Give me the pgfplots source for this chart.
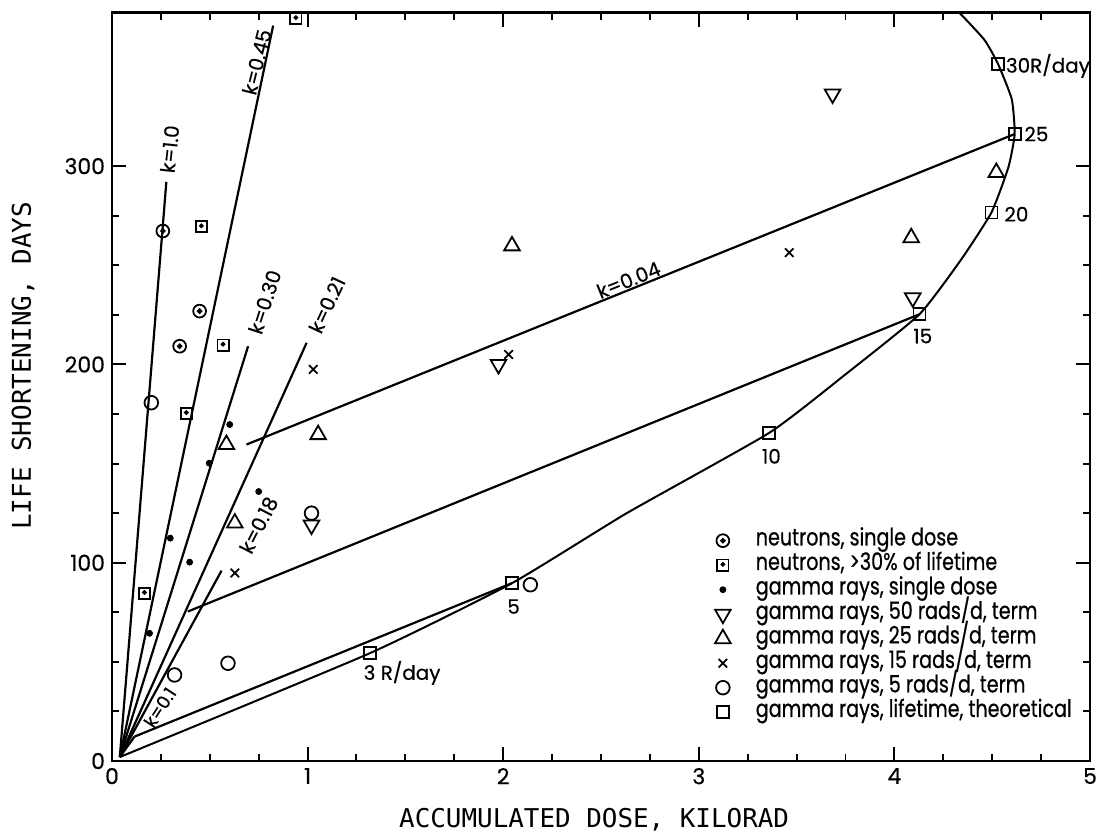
\documentclass[border=0pt]{standalone}
\usepackage{fontspec}
\setmainfont[FakeBold=0.4]{Poppins}
\newfontfamily\labelfont{DejaVu Sans Mono}
\newfontfamily\keyfont[FakeStretch=0.80, FakeBold=0.6]{Poppins}
\usepackage{pgfplots}
\pgfplotsset{compat=1.18}

% circle with a centre dot (neutrons, single dose)
\pgfdeclareplotmark{odot}{%
  \pgfpathcircle{\pgfpointorigin}{\pgfplotmarksize}\pgfusepathqstroke
  \pgfpathcircle{\pgfpointorigin}{0.28\pgfplotmarksize}\pgfusepathqfillstroke}
% square with an inner dot (neutrons, >30% of lifetime)
\pgfdeclareplotmark{sqdot}{%
  \pgfpathrectangle{\pgfpoint{-\pgfplotmarksize}{-\pgfplotmarksize}}{\pgfpoint{2\pgfplotmarksize}{2\pgfplotmarksize}}\pgfusepathqstroke
  \pgfpathcircle{\pgfpoint{0pt}{0.15\pgfplotmarksize}}{0.25\pgfplotmarksize}\pgfusepathqfillstroke}

\pgfplotsset{
  keyimg/.style={legend image code/.code={\path (-7bp,0) (14bp,0); \draw[##1] plot coordinates {(0bp,0bp)};}},
}
\tikzset{ann/.style={font=\fontsize{10}{12}\selectfont, inner sep=0pt}}

\begin{document}
\begin{tikzpicture}
\begin{axis}[
  scale only axis, width=489bp, height=374.15bp,
  xmin=0, xmax=5, ymin=0, ymax=377.4,
  xtick={0,1,2,3,4,5}, ytick={0,100,200,300},
  minor x tick num=3, minor y tick num=3,
  tick pos=both, tick align=inside,
  major tick length=7bp, minor tick length=3.5bp,
  every tick/.style={black, line width=1pt},
  axis line style={line width=1.3pt},
  /pgf/number format/assume math mode=true,
  tick label style={font=\fontsize{11}{12}\selectfont},
  xlabel={ACCUMULATED DOSE, KILORAD},
  ylabel={LIFE SHORTENING, DAYS},
  every axis x label/.style={at={(rel axis cs:0.493,-0.079)}, anchor=center,
    font=\labelfont\fontsize{13}{15}\selectfont},
  every axis y label/.style={at={(rel axis cs:-0.091,0.528)}, rotate=90, anchor=center,
    font=\labelfont\fontsize{13}{15}\selectfont},
  legend cell align=left,
  legend style={draw=none, fill=none, at={(axis cs:3.045,117.5)}, anchor=north west,
    font=\keyfont\fontsize{12}{12}\selectfont, row sep=0pt, inner sep=0pt,
    nodes={inner ysep=0pt, inner xsep=2bp, text height=8.5bp, text depth=3.75bp}},
]

% proportional lines y = k x, drawn from near the origin
\addplot[black, line width=1.1pt, forget plot] coordinates {(0.04,2) (0.278,292.1)};
\addplot[black, line width=1.1pt, forget plot] coordinates {(0.04,2) (0.824,370.9)};
\addplot[black, line width=1.1pt, forget plot] coordinates {(0.04,2) (0.696,209.2)};
\addplot[black, line width=1.1pt, forget plot] coordinates {(0.04,2) (0.995,210.9)};
\addplot[black, line width=1.1pt, forget plot] coordinates {(0.04,2) (0.56,96)};
\addplot[black, line width=1.1pt, forget plot] coordinates {(0.04,2) (0.115,12.3)};

% k = 0.04 lines joining the fan to the theoretical curve
\addplot[black, line width=1.1pt, forget plot] coordinates {(0.6875,159.6) (4.615,316.2)};
\addplot[black, line width=1.1pt, forget plot] coordinates {(0.388,75.4) (4.128,225.3)};
\addplot[black, line width=1.1pt, forget plot] coordinates {(0.115,12.3) (2.045,89.7)};

% theoretical lifetime curve
\addplot[black, line width=1pt, smooth, tension=0.3, forget plot] coordinates {
  (0.04,2) (1.319,54.4) (2.045,89.7) (2.63,124.9) (3.36,165.5) (3.75,195)
  (4.128,225.3) (4.342,253) (4.496,276.6) (4.583,299.5) (4.615,316.2)
  (4.600,333.8) (4.53,351.5) (4.461,363.6) (4.33,377.6) (4.25,384)};

% measured points
\addplot[only marks, mark=odot, mark size=3.2bp, black, line width=0.9pt, keyimg] coordinates {
  (0.260,267.3) (0.346,209.2) (0.448,226.9)};
\addlegendentry{neutrons, single dose}
\addplot[only marks, mark=sqdot, mark size=2.8bp, black, line width=0.9pt, keyimg] coordinates {
  (0.380,175.3) (0.457,269.5) (0.568,209.8) (0.166,84.6) (0.94,374.5)};
\addlegendentry{neutrons, >30\% of lifetime}
\addplot[only marks, mark=*, mark size=1.5bp, black, keyimg] coordinates {
  (0.298,112.4) (0.397,100.3) (0.192,64.4) (0.497,150.2) (0.602,169.7) (0.750,135.9)};
\addlegendentry{gamma rays, single dose}
\addplot[only marks, mark=triangle, mark size=4.5bp, mark options={rotate=180}, black, line width=0.9pt, keyimg] coordinates {
  (3.684,336.4) (4.094,233.6) (1.976,200) (1.02,119)};
\addlegendentry{gamma rays, 50 rads/d, term}
\addplot[only marks, mark=triangle, mark size=4.5bp, black, line width=0.9pt, keyimg] coordinates {
  (2.045,259.8) (4.086,263.9) (4.521,296.8) (1.054,164.6) (0.585,159.6) (0.628,120)};
\addlegendentry{gamma rays, 25 rads/d, term}
\addplot[only marks, mark=x, mark size=3bp, black, line width=0.9pt, keyimg] coordinates {
  (3.462,256.4) (2.028,205) (1.029,197.5) (0.628,94.8)};
\addlegendentry{gamma rays, 15 rads/d, term}
\addplot[only marks, mark=o, mark size=3.4bp, black, line width=0.9pt, keyimg] coordinates {
  (0.201,180.7) (0.593,49.3) (1.020,125) (2.139,88.9) (0.32,43.4)};
\addlegendentry{gamma rays, 5 rads/d, term}
\addplot[only marks, mark=square, mark size=3bp, mark options={fill=white}, black, line width=0.9pt, keyimg] coordinates {
  (1.319,54.4) (2.045,89.7) (3.36,165.5) (4.128,225.3) (4.496,276.6) (4.615,316.2) (4.53,351.5)};
\addlegendentry{gamma rays, lifetime, theoretical}

% slope labels
\node[ann, rotate=84] at (axis cs:0.295,308.6) {k=1.0};
\node[ann, rotate=76] at (axis cs:0.740,352.5) {k=0.45};
\node[ann, rotate=72] at (axis cs:0.781,231.5) {k=0.30};
\node[ann, rotate=65] at (axis cs:1.099,230) {k=0.21};
\node[ann, rotate=63] at (axis cs:0.750,119) {k=0.18};
\node[ann, rotate=57, font=\fontsize{9}{10}\selectfont] at (axis cs:0.245,27) {k=0.1};
\node[ann, rotate=22] at (axis cs:2.641,242.6) {k=0.04};

% dose-rate labels on the theoretical curve
\node[ann] at (axis cs:1.483,44.4) {3 R/day};
\node[ann] at (axis cs:2.053,77.9) {5};
\node[ann] at (axis cs:3.371,153.7) {10};
\node[ann] at (axis cs:4.145,214.3) {15};
\node[ann] at (axis cs:4.624,275.8) {20};
\node[ann] at (axis cs:4.726,316.2) {25};
\node[ann] at (axis cs:4.785,350.6) {30R/day};

\coordinate (bbSW) at (rel axis cs:-0.1145,-0.10156);
\coordinate (bbNE) at (rel axis cs:1.00613,1.01697);
\end{axis}
\pgfresetboundingbox
\path[use as bounding box] (bbSW) rectangle (bbNE);
\end{tikzpicture}
\end{document}
